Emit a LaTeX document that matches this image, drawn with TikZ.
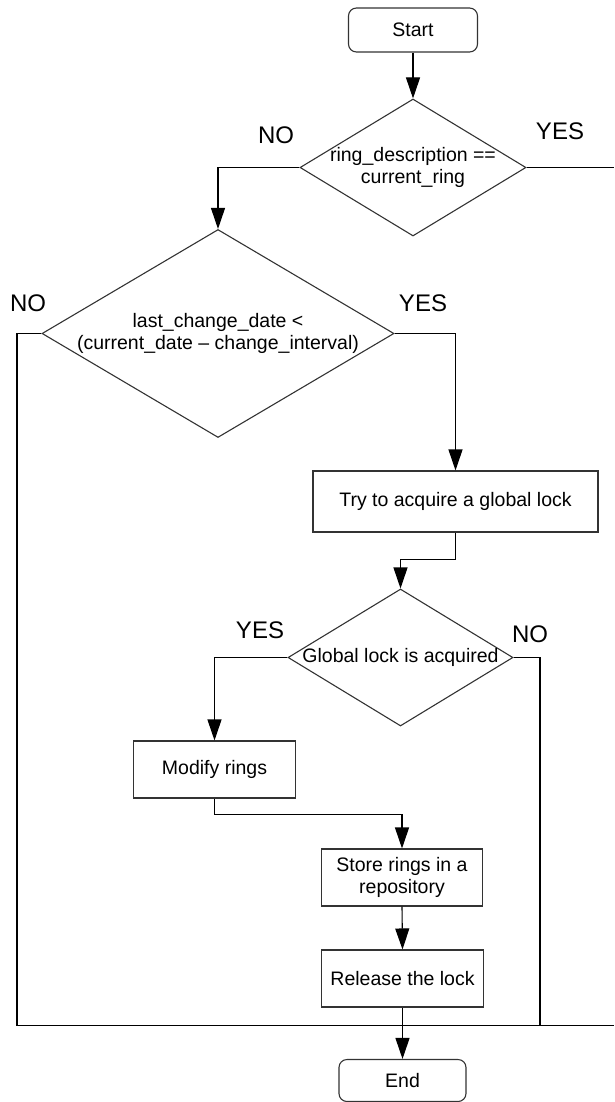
\documentclass[tikz,border=0pt]{standalone}
\usepackage{fontspec}
\setmainfont{Liberation Sans}
\usetikzlibrary{shapes.geometric,arrows.meta}
\begin{document}
\begin{tikzpicture}[x=1pt,y=-1pt,
  every node/.style={font=\fontsize{19.5}{22}\selectfont},
  line/.style={draw=black, line width=1.1pt},
  arr/.style={line, -{Triangle[length=21pt,width=14pt]}},
  term/.style={draw=black!80, line width=1.1pt, rounded corners=8pt, inner sep=0pt},
  proc/.style={draw=black!80, line width=1.1pt, inner sep=0pt, align=center},
  dec/.style={draw=black!80, line width=1.1pt, diamond, inner sep=0pt},
  txt/.style={align=center, inner sep=0pt},
  lab/.style={font=\fontsize{24}{28}\selectfont, inner sep=0pt}]
\useasboundingbox (0,0) rectangle (614,1102);
% nodes
\node[term, minimum width=129pt, minimum height=44pt] (start) at (413,30) {Start};
\node[dec, minimum width=226pt, minimum height=137pt] (d1) at (413,167.5) {};
\node[txt] (t1) at (d1.center) {ring\_description ==\\current\_ring};
\node[dec, minimum width=352pt, minimum height=208pt] (d2) at (218,333.5) {};
\node[txt] (t2) at (d2.center) {last\_change\_date <\\(current\_date – change\_interval)};
\node[proc, minimum width=285pt, minimum height=61pt] (try) at (455.5,501.5) {Try to acquire a global lock};
\node[dec, minimum width=225pt, minimum height=137pt] (d3) at (400.5,657.5) {};
\node[txt] (t3) at (d3.center) {Global lock is acquired};
\node[proc, minimum width=162pt, minimum height=57pt] (mod) at (214.5,769.5) {Modify rings};
\node[proc, minimum width=161pt, minimum height=57pt] (store) at (402,877.5) {Store rings in a\\repository};
\node[proc, minimum width=162pt, minimum height=57pt] (rel) at (402.5,978.5) {Release the lock};
\node[term, minimum width=127pt, minimum height=42pt] (end) at (402.5,1080.5) {End};
% labels
\node[lab] (l1) at (276,135) {NO};
\node[lab] (l2) at (560,131) {YES};
\node[lab] (l3) at (28,303) {NO};
\node[lab] (l4) at (423,303) {YES};
\node[lab] (l5) at (260,630) {YES};
\node[lab] (l6) at (530,634) {NO};
% coordinates
\coordinate (r1) at (614,167.5);
\coordinate (lt) at (17,333.5);
\coordinate (lb) at (17,1025.5);
\coordinate (rb) at (614,1025.5);
\coordinate (n3) at (540,1025.5);
% connectors
\draw[arr] (start.south) -- (d1.north);
\draw[line] (d1.east) -- (r1);
\draw[arr] (d1.west) -| (d2.north);
\draw[arr] (d2.east) -| (try.north);
\draw[arr] (try.south) -- ++(0,27) -| (d3.north);
\draw[arr] (d3.west) -| (mod.north);
\draw[line] (d3.east) -| (n3);
\draw[arr] (mod.south) -- ++(0,16) -| (store.north);
\draw[arr] (store.south) -- (rel.north);
\draw[line] (d2.west) -- (lt) -- (lb) -- (rb);
\draw[arr] (rel.south) -- (end.north);
\end{tikzpicture}
\end{document}
